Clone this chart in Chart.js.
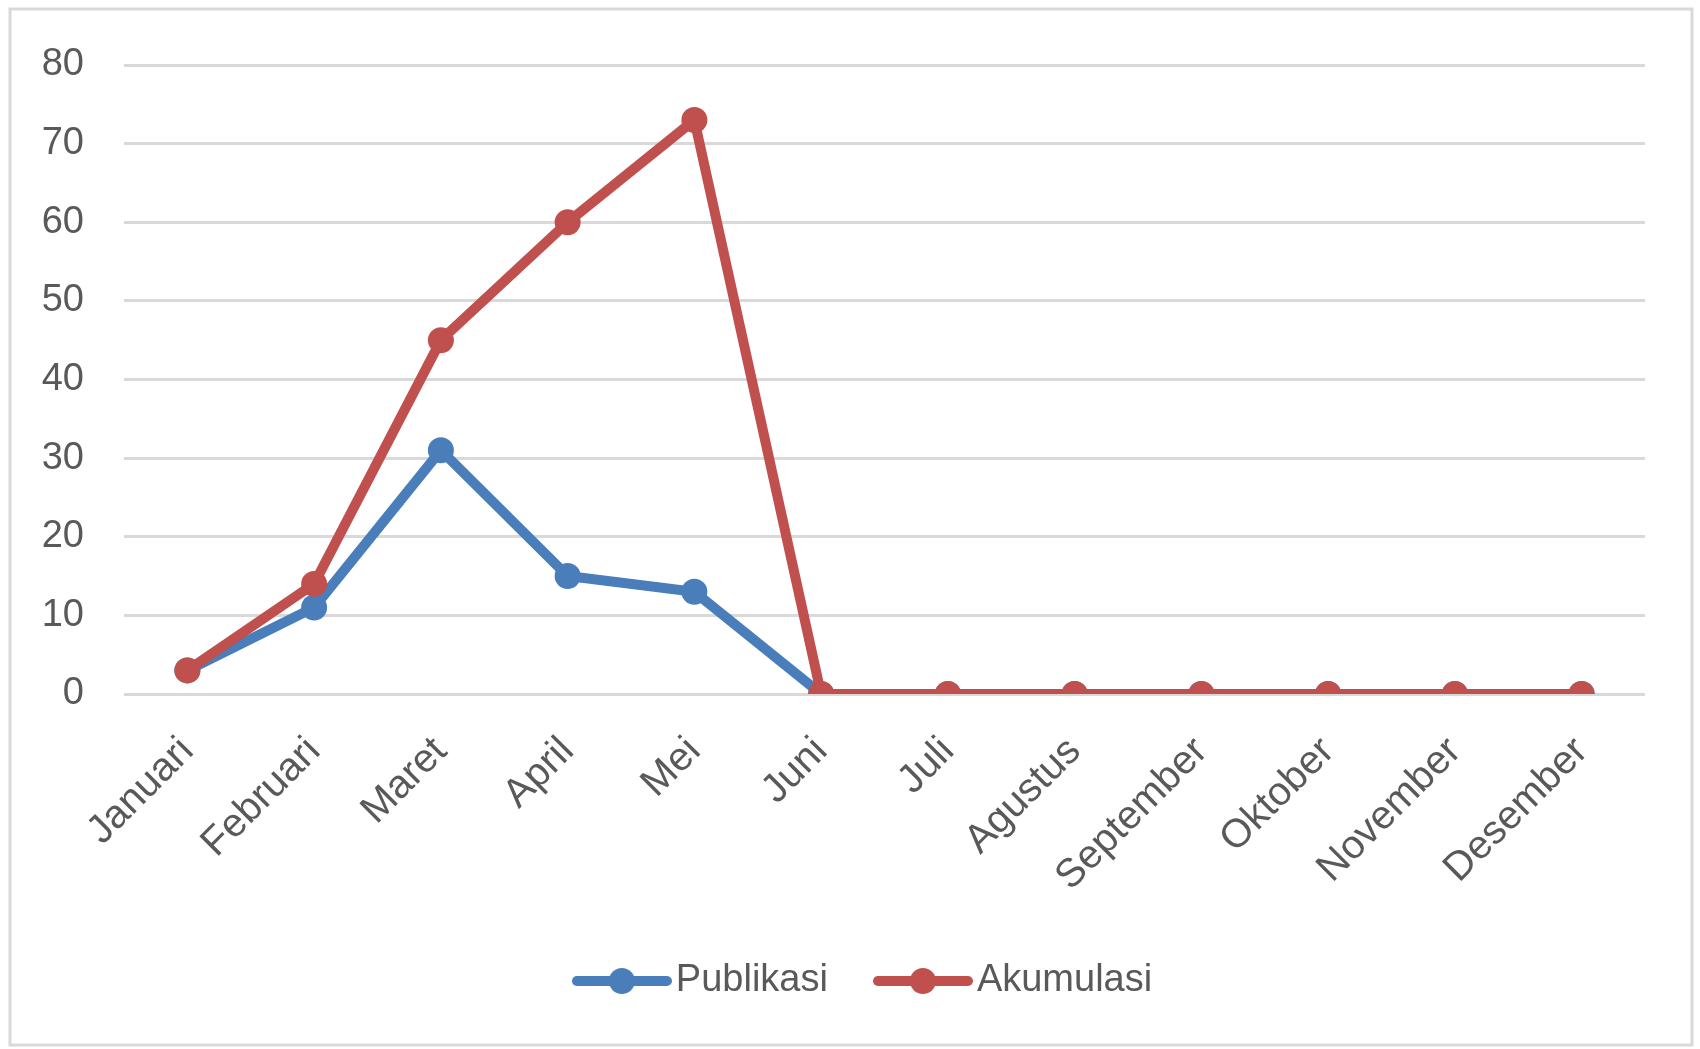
<!DOCTYPE html>
<html>
<head>
<meta charset="utf-8">
<script src="https://cdn.jsdelivr.net/npm/chart.js@4"></script>
<style>
  html, body { margin: 0; padding: 0; background: #ffffff; }
  #wrap { width: 1700px; height: 1049px; position: relative; }
</style>
</head>
<body>
<div id="wrap"><canvas id="grafico"></canvas></div>
<script>
const bulan = ['Januari', 'Februari', 'Maret', 'April', 'Mei', 'Juni',
    'Juli', 'Agustus', 'September', 'Oktober', 'November', 'Desember']
const publikasi = [3, 11, 31, 15, 13, 0, 0, 0, 0, 0, 0, 0]
const akumulasi = [3, 14, 45, 60, 73, 0, 0, 0, 0, 0, 0, 0]
const yMin = 0
const yMax = 80
const yStep = 10

const biru = '#4a7ebb'
const merah = '#c0504d'
const abu = '#595959'
const fontUtama = 'Liberation Sans'

// legend icon: a line with a dot in the middle, like Excel
function ikonLegend(warna) {
    const c = document.createElement('canvas')
    c.width = 100
    c.height = 28
    const g = c.getContext('2d')
    g.strokeStyle = warna
    g.lineWidth = 10
    g.lineCap = 'round'
    g.beginPath()
    g.moveTo(5, 14)
    g.lineTo(95, 14)
    g.stroke()
    g.fillStyle = warna
    g.beginPath()
    g.arc(50, 14, 13, 0, Math.PI * 2)
    g.fill()
    return c
}

const bingkai = {
    id: 'bingkai',
    beforeDraw(chart) {
        const ctx = chart.ctx
        ctx.save()
        ctx.fillStyle = '#ffffff'
        ctx.fillRect(0, 0, chart.width, chart.height)
        ctx.strokeStyle = '#d9d9d9'
        ctx.lineWidth = 3
        ctx.strokeRect(10, 9, 1682, 1036)
        ctx.restore()
    },
    afterLayout(chart) {
        // legend sits a little right of the canvas centre
        chart.legend.left += 47
        chart.legend.right += 47
    }
}

const ctx = document.getElementById('grafico').getContext('2d')

const grafico = new Chart(ctx, {
    type: 'line',
    data: {
        labels: bulan,
        datasets: [{
            label: 'Publikasi',
            data: publikasi,
            order: 2,
            borderColor: biru,
            backgroundColor: biru,
            borderWidth: 10,
            pointRadius: 13,
            pointBorderWidth: 0,
            pointStyle: 'circle',
            legendIcon: ikonLegend(biru)
        }, {
            label: 'Akumulasi',
            data: akumulasi,
            order: 1,
            borderColor: merah,
            backgroundColor: merah,
            borderWidth: 10,
            pointRadius: 13,
            pointBorderWidth: 0,
            pointStyle: 'circle',
            legendIcon: ikonLegend(merah)
        }]
    },
    options: {
        responsive: true,
        maintainAspectRatio: false,
        animation: false,
        devicePixelRatio: 1,
        layout: {
            padding: { top: 65, right: 55, left: 0, bottom: 39 }
        },
        plugins: {
            tooltip: { enabled: false },
            legend: {
                position: 'bottom',
                labels: {
                    font: { family: fontUtama, size: 38 },
                    color: abu,
                    usePointStyle: true,
                    pointStyleWidth: 70,
                    padding: 60,
                    generateLabels(chart) {
                        return chart.data.datasets.map((ds, i) => ({
                            text: ds.label,
                            fillStyle: ds.borderColor,
                            strokeStyle: ds.borderColor,
                            lineWidth: 0,
                            pointStyle: ds.legendIcon,
                            fontColor: abu,
                            hidden: false,
                            datasetIndex: i
                        }))
                    }
                }
            }
        },
        scales: {
            x: {
                offset: true,
                grid: { display: false },
                border: { display: false },
                ticks: {
                    font: { family: fontUtama, size: 40 },
                    color: abu,
                    minRotation: 45,
                    maxRotation: 45,
                    padding: 26
                },
                afterFit(scale) { scale.height = 208 }
            },
            y: {
                min: yMin,
                max: yMax,
                grid: { color: '#d9d9d9', lineWidth: 3, drawTicks: false },
                border: { display: false },
                ticks: {
                    stepSize: yStep,
                    font: { family: fontUtama, size: 38 },
                    color: abu,
                    padding: 40
                },
                afterFit(scale) { scale.width = 124 }
            }
        }
    },
    plugins: [bingkai]
})
</script>
</body>
</html>
